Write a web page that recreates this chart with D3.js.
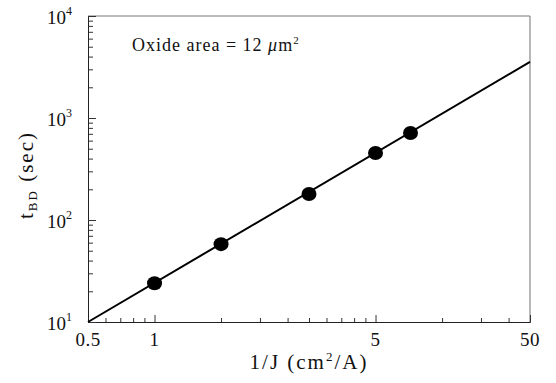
<!DOCTYPE html>
<html>
<head>
<meta charset="utf-8">
<script src="https://cdn.jsdelivr.net/npm/d3@7"></script>
<style>
  body { margin: 0; background: #fff; }
  text { font-family: "Liberation Serif", "DejaVu Serif", serif; fill: #111; }
</style>
</head>
<body>
<div id="chart"></div>
<script>
// data
const invJ = [1, 2, 5, 10, 14.4];
const tBD = [24, 58, 180, 454, 713];
const fitX = [0.5, 50];
const fitY = [10, 3550];

// the original prints "5" under the 10 tick
const xTickValues = [0.5, 1, 10, 50];
const xTickLabels = ['0.5', '1', '5', '50'];
const yTickValues = [10, 100, 1000, 10000];
const yTickExps = ['1', '2', '3', '4'];

const width = 556;
const height = 383;
const margin = { top: 16, right: 26, bottom: 61, left: 88 };

const svg = d3.select('#chart').append('svg')
  .attr('width', width)
  .attr('height', height);

const xScale = d3.scaleLog()
  .domain([0.5, 50])
  .range([margin.left, width - margin.right]);

const yScale = d3.scaleLog()
  .domain([10, 10000])
  .range([height - margin.bottom, margin.top]);

const x0 = xScale.range()[0], x1 = xScale.range()[1];
const y0 = yScale.range()[0], y1 = yScale.range()[1];

// frame
svg.append('line').attr('x1', x0).attr('x2', x1).attr('y1', y1).attr('y2', y1)
  .attr('stroke', '#777').attr('stroke-width', 1);
svg.append('line').attr('x1', x1).attr('x2', x1).attr('y1', y1).attr('y2', y0)
  .attr('stroke', '#888').attr('stroke-width', 1.2);

// bottom axis with inward ticks
const xMinor = [0.6, 0.7, 0.8, 0.9, 2, 3, 4, 5, 6, 7, 8, 9, 20, 30, 40];
const xAxis = svg.append('g').attr('transform', `translate(0, ${y0})`);
xAxis.call(d3.axisBottom(xScale).tickValues(xMinor).tickSizeInner(-4).tickSizeOuter(0).tickFormat(''));
xAxis.append('g').call(d3.axisBottom(xScale).tickValues(xTickValues).tickSizeInner(-7).tickSizeOuter(0).tickFormat(''));
xAxis.selectAll('path').attr('stroke', '#222');
xAxis.selectAll('line').attr('stroke', '#333');

svg.append('g').selectAll('text')
  .data(xTickValues)
  .enter()
  .append('text')
  .attr('x', (d) => xScale(d))
  .attr('y', y0 + 24)
  .attr('text-anchor', 'middle')
  .attr('font-size', '19px')
  .attr('letter-spacing', '0.5px')
  .text((d, i) => xTickLabels[i]);

// left axis with inward ticks
const yMinor = [];
[10, 100, 1000].forEach((dec) => {
  for (let k = 2; k <= 9; k++) yMinor.push(dec * k);
});
const yAxis = svg.append('g').attr('transform', `translate(${x0}, 0)`);
yAxis.call(d3.axisLeft(yScale).tickValues(yMinor).tickSizeInner(-5).tickSizeOuter(0).tickFormat(''));
yAxis.append('g').call(d3.axisLeft(yScale).tickValues(yTickValues).tickSizeInner(-8).tickSizeOuter(0).tickFormat(''));
yAxis.selectAll('path').attr('stroke', '#222');
yAxis.selectAll('line').attr('stroke', '#333');

const yLabels = svg.append('g').selectAll('text')
  .data(yTickValues)
  .enter()
  .append('text')
  .attr('x', x0 - 16)
  .attr('y', (d) => yScale(d) + 8)
  .attr('text-anchor', 'end')
  .attr('font-size', '19px');
yLabels.append('tspan').text('10');
yLabels.append('tspan')
  .attr('dy', -9)
  .attr('font-size', '12px')
  .text((d, i) => yTickExps[i]);

// fitted line
const line = d3.line()
  .x((d) => xScale(d[0]))
  .y((d) => yScale(d[1]));

svg.append('path')
  .datum(d3.zip(fitX, fitY))
  .attr('d', line)
  .attr('fill', 'none')
  .attr('stroke', '#000')
  .attr('stroke-width', 2);

// measured points
svg.selectAll('.pt')
  .data(d3.zip(invJ, tBD))
  .enter()
  .append('ellipse')
  .attr('class', 'pt')
  .attr('cx', (d) => xScale(d[0]))
  .attr('cy', (d) => yScale(d[1]))
  .attr('rx', 7.5)
  .attr('ry', 7)
  .attr('fill', '#000');

// annotation
const note = svg.append('text')
  .attr('x', 132)
  .attr('y', 51)
  .attr('font-size', '18px')
  .attr('letter-spacing', '1px');
note.append('tspan').text('Oxide area = 12 ');
note.append('tspan').attr('font-style', 'italic').text('μ');
note.append('tspan').text('m');
note.append('tspan').attr('dy', -7).attr('font-size', '11px').text('2');

// axis titles
const xTitle = svg.append('text')
  .attr('x', (x0 + x1) / 2)
  .attr('y', 369)
  .attr('text-anchor', 'middle')
  .attr('font-size', '21px')
  .attr('letter-spacing', '2px');
xTitle.append('tspan').text('1/J (cm');
xTitle.append('tspan').attr('dy', -8).attr('font-size', '13px').text('2');
xTitle.append('tspan').attr('dy', 8).text('/A)');

const yTitle = svg.append('text')
  .attr('transform', `translate(33, ${(y0 + y1) / 2 + 6}) rotate(-90)`)
  .attr('text-anchor', 'middle')
  .attr('font-size', '21px')
  .attr('letter-spacing', '2px');
yTitle.append('tspan').text('t');
yTitle.append('tspan').attr('dy', 4).attr('font-size', '13px').text('BD');
yTitle.append('tspan').attr('dy', -4).text(' (sec)');
</script>
</body>
</html>
